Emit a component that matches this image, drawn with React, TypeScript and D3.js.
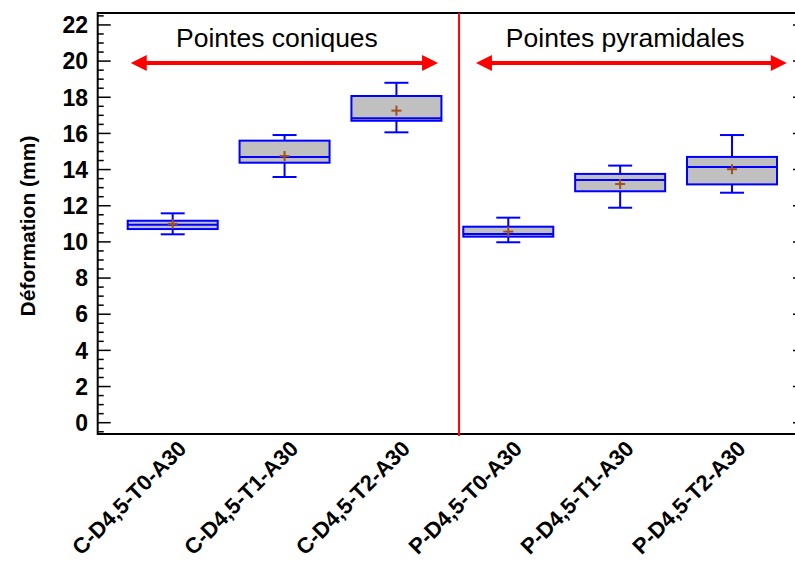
import React from "react";
import * as d3 from "d3";

const categories = ["C-D4,5-T0-A30", "C-D4,5-T1-A30", "C-D4,5-T2-A30", "P-D4,5-T0-A30", "P-D4,5-T1-A30", "P-D4,5-T2-A30"];
const whiskerLow = [10.42, 13.59, 16.06, 9.98, 11.89, 12.72];
const q1 = [10.71, 14.38, 16.7, 10.29, 12.8, 13.18];
const median = [10.95, 14.7, 16.84, 10.44, 13.42, 14.14];
const q3 = [11.17, 15.6, 18.07, 10.84, 13.76, 14.7];
const whiskerHigh = [11.58, 15.91, 18.8, 11.34, 14.22, 15.91];
const mean = [11.0, 14.75, 17.26, 10.57, 13.2, 14.02];
const yTicks = [0, 2, 4, 6, 8, 10, 12, 14, 16, 18, 20, 22];
const groupLabels = ["Pointes coniques", "Pointes pyramidales"];
const groupCenters = [1.932, 5.045];
const groupArrows = [[0.625, 3.372], [3.711, 6.49]];
const dividerAt = 3.56;
const arrowLevel = 19.9;
const yTitle = "Déformation (mm)";

export default function App() {
  const W = 795, H = 563;
  const left = 97.7, right = 806, top = 13, bottom = 434;
  const x = d3.scaleLinear().domain([1, 6]).range([172.7, 732]);
  const y = d3.scaleLinear().domain([-0.625, 22.66]).range([bottom, top]);
  const boxW = 90;
  const capW = 24;
  const minorTicks = d3.range(-0.5, 22.6, 0.5).filter((v) => Math.abs(v % 2) > 1e-6);
  const font = "Liberation Sans, Arial, sans-serif";
  const ay = y(arrowLevel);
  return (
    <svg width={W} height={H} style={{ position: "absolute", left: 0, top: 0, background: "#fff" }} fontFamily={font}>
      <rect x={left} y={top} width={right - left} height={bottom - top} fill="none" stroke="#000" strokeWidth={2} />
      {yTicks.map((t) => (
        <g key={"t" + t}>
          <line x1={left} x2={left + 13} y1={y(t)} y2={y(t)} stroke="#000" strokeWidth={1.5} />
          <line x1={right} x2={right - 13} y1={y(t)} y2={y(t)} stroke="#000" strokeWidth={1.5} />
          <text x={88} y={y(t)} dy="0.36em" textAnchor="end" fontWeight="bold" fontSize={23}>{t}</text>
        </g>
      ))}
      {minorTicks.map((t) => (
        <line key={"m" + t} x1={left} x2={left + 6} y1={y(t)} y2={y(t)} stroke="#000" strokeWidth={1.5} />
      ))}
      <text transform={`translate(35, 226) rotate(-90)`} textAnchor="middle" fontWeight="bold" fontSize={21}>{yTitle}</text>
      <line x1={x(dividerAt)} x2={x(dividerAt)} y1={top} y2={bottom + 2} stroke="#ff0000" strokeWidth={2} />
      {groupArrows.map(([a, b], i) => {
        const x1 = x(a), x2 = x(b);
        const hl = 16, hh = 8;
        return (
          <g key={"ga" + i}>
            <line x1={x1 + hl - 2} x2={x2 - hl + 2} y1={ay} y2={ay} stroke="#ff0000" strokeWidth={4} />
            <path d={`M${x1},${ay} L${x1 + hl},${ay - hh} L${x1 + hl},${ay + hh} Z`} fill="#ff0000" />
            <path d={`M${x2},${ay} L${x2 - hl},${ay - hh} L${x2 - hl},${ay + hh} Z`} fill="#ff0000" />
            <text x={x(groupCenters[i])} y={47} textAnchor="middle" fontSize={26.5}>{groupLabels[i]}</text>
          </g>
        );
      })}
      {categories.map((c, i) => {
        const cx = x(i + 1);
        const mx = 5;
        return (
          <g key={c}>
            <line x1={cx} x2={cx} y1={y(whiskerHigh[i])} y2={y(q3[i])} stroke="#0000ff" strokeWidth={2} />
            <line x1={cx} x2={cx} y1={y(q1[i])} y2={y(whiskerLow[i])} stroke="#0000ff" strokeWidth={2} />
            <line x1={cx - capW / 2} x2={cx + capW / 2} y1={y(whiskerHigh[i])} y2={y(whiskerHigh[i])} stroke="#0000ff" strokeWidth={2} />
            <line x1={cx - capW / 2} x2={cx + capW / 2} y1={y(whiskerLow[i])} y2={y(whiskerLow[i])} stroke="#0000ff" strokeWidth={2} />
            <rect x={cx - boxW / 2} y={y(q3[i])} width={boxW} height={y(q1[i]) - y(q3[i])} fill="#c0c0c0" stroke="#0000ff" strokeWidth={2} />
            <line x1={cx - boxW / 2} x2={cx + boxW / 2} y1={y(median[i])} y2={y(median[i])} stroke="#0000ff" strokeWidth={2} />
            <line x1={cx - mx} x2={cx + mx} y1={y(mean[i])} y2={y(mean[i])} stroke="#a0501e" strokeWidth={2} />
            <line x1={cx} x2={cx} y1={y(mean[i]) - mx} y2={y(mean[i]) + mx} stroke="#a0501e" strokeWidth={2} />
          </g>
        );
      })}
      {categories.map((c, i) => (
        <text key={"xl" + c} transform={`translate(${x(i + 1) + 15}, ${bottom + 16}) rotate(-45)`} textAnchor="end" fontWeight="bold" fontSize={22}>{c}</text>
      ))}
    </svg>
  );
}
